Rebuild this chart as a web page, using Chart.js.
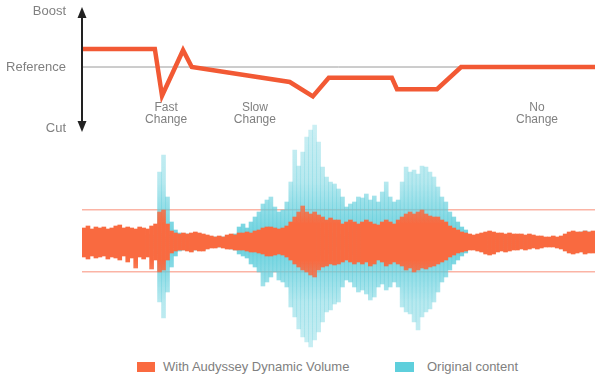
<!DOCTYPE html>
<html>
<head>
<meta charset="utf-8">
<script src="https://cdn.jsdelivr.net/npm/chart.js@4/dist/chart.umd.min.js"></script>
<style>
  body { margin: 0; background: #fff; font-family: "Liberation Sans", Arial, sans-serif; }
  #wrap { position: relative; width: 601px; height: 379px; overflow: hidden; }
  #gainCanvas { position: absolute; left: 0; top: 0; z-index: 2; }
  #waveCanvas { position: absolute; left: 0; top: 120px; z-index: 1; }
  .legend-text { position: absolute; top: 360px; font-size: 13px; line-height: 14px; color: #808080; white-space: nowrap; }
  .swatch { position: absolute; top: 362px; height: 10px; }
</style>
</head>
<body>
<div id="wrap">
  <canvas id="waveCanvas" width="601" height="245"></canvas>
  <canvas id="gainCanvas" width="601" height="140"></canvas>
  <div class="swatch" style="left:137px;width:18px;background:#fa6a40"></div>
  <div class="legend-text" style="left:163px">With Audyssey Dynamic Volume</div>
  <div class="swatch" style="left:395px;width:19px;background:#5ecfdc"></div>
  <div class="legend-text" style="left:427px">Original content</div>
</div>
<script>
// gain curve (time in % of clip, level relative to reference)
const gainTimes = [0, 14.2, 15.6, 19.7, 21.4, 40.5, 45.0, 48.1, 60.4, 61.4, 69.2, 73.9, 100];
const gainLevels = [0.30, 0.30, -0.48, 0.28, 0, -0.25, -0.49, -0.18, -0.18, -0.37, -0.37, 0, 0];
const levelTicks = [0.92, 0, -1.02];
const levelLabels = ['Boost', 'Reference', 'Cut'];
const noteTimes = [16.4, 33.7, 88.7];
const noteLabels = [['Fast', 'Change'], ['Slow', 'Change'], ['No', 'Change']];

// waveform envelopes, one sample every ~0.8% of the clip
const orangeTop = [14,16,13,15,14,15,13,14,16,17,14,15,14,13,15,14,13,16,18,
  30,32,18,11,9,
  8,9,8,9,10,9,8,7,6,5,6,5,7,8,7,9,
  9,10,9,11,12,14,15,15,14,13,14,16,20,
  25,30,36,30,28,30,27,25,22,24,22,
  22,18,20,22,20,18,20,22,20,18,17,20,22,20,18,22,
  25,28,30,28,30,32,28,26,25,25,22,20,16,14,12,10,9,
  8,7,8,9,10,11,10,9,9,8,9,8,8,8,7,8,7,6,6,5,5,6,5,6,8,10,11,10,10,11,10,11];
const orangeBottom = [15,17,14,16,15,14,17,15,16,18,14,20,16,26,15,17,15,27,18,
  30,28,18,11,9,
  8,8,9,10,8,9,9,7,6,6,5,6,7,7,8,8,
  8,9,10,10,11,12,14,14,13,12,13,15,18,
  22,25,28,30,33,35,28,25,24,22,23,
  22,20,18,20,22,20,22,20,24,22,18,20,24,22,20,22,
  24,28,26,30,28,26,27,25,24,22,20,18,15,13,11,10,9,
  8,8,9,10,12,13,12,10,9,10,9,8,8,7,8,7,6,7,6,5,5,5,6,7,9,11,12,11,10,12,11,11];
const cyanTop = [7,8,7,8,7,8,7,7,8,8,7,8,7,7,8,7,7,8,15,
  70,87,45,20,12,
  9,8,8,8,9,8,7,6,5,5,5,5,6,7,8,15,
  18,14,20,25,30,38,42,45,35,30,32,40,60,
  92,76,90,105,112,117,100,75,65,60,58,
  53,45,35,38,40,45,44,48,42,46,40,50,60,45,40,42,
  60,75,70,72,68,76,75,70,65,55,45,40,30,25,20,15,12,
  7,6,7,8,9,10,9,8,8,7,8,7,7,7,6,7,6,5,5,4,4,5,4,5,7,9,10,9,10,11,10,10];
const cyanBottom = [7,8,8,7,8,7,8,7,7,8,8,7,8,8,7,8,7,8,14,
  60,76,50,25,14,
  9,8,8,9,8,8,8,6,5,5,5,5,6,7,8,12,
  14,16,22,25,30,44,40,35,30,38,40,45,65,
  75,87,95,100,105,98,90,80,70,68,62,
  60,45,38,40,45,50,48,52,58,55,45,42,48,45,40,45,
  65,70,72,80,88,75,70,67,60,50,40,35,28,22,18,14,11,
  7,7,8,9,11,12,11,9,8,9,8,7,7,6,7,6,5,6,5,4,4,4,5,6,8,10,11,10,9,11,10,10];
const limitLevels = [32, -30];

Chart.defaults.font.family = '"Liberation Sans", Arial, sans-serif';
const textGray = '#808080';

const arrowAxis = {
  id: 'arrowAxis',
  afterDatasetsDraw(chart) {
    const c = chart.ctx;
    const x = chart.chartArea.left;
    c.save();
    c.strokeStyle = '#222';
    c.fillStyle = '#222';
    c.lineWidth = 2;
    c.beginPath();
    c.moveTo(x, 14);
    c.lineTo(x, 126);
    c.stroke();
    c.beginPath();
    c.moveTo(x, 7); c.lineTo(x - 4.5, 18); c.lineTo(x + 4.5, 18); c.closePath();
    c.fill();
    c.beginPath();
    c.moveTo(x, 132); c.lineTo(x - 4.5, 121); c.lineTo(x + 4.5, 121); c.closePath();
    c.fill();
    c.restore();
  }
};

const notes = {
  id: 'notes',
  afterDraw(chart) {
    const c = chart.ctx;
    const xs = chart.scales.x;
    c.save();
    c.fillStyle = textGray;
    c.font = '12px "Liberation Sans", Arial, sans-serif';
    c.textAlign = 'center';
    c.textBaseline = 'middle';
    noteTimes.forEach((t, i) => {
      const px = xs.getPixelForValue(t);
      c.fillText(noteLabels[i][0], px, 108);
      c.fillText(noteLabels[i][1], px, 120);
    });
    c.restore();
  }
};

new Chart(document.getElementById('gainCanvas'), {
  type: 'line',
  data: {
    datasets: [
      {
        data: gainTimes.map((t, i) => ({ x: t, y: gainLevels[i] })),
        borderColor: '#f25934',
        borderWidth: 4.5,
        borderJoinStyle: 'miter',
        pointRadius: 0,
        tension: 0
      },
      {
        data: [{ x: 0, y: 0 }, { x: 100, y: 0 }],
        borderColor: '#9a9a9a',
        borderWidth: 1,
        pointRadius: 0
      }
    ]
  },
  options: {
    responsive: false,
    animation: false,
    layout: { padding: { top: 4, bottom: 10, right: 6 } },
    plugins: { legend: { display: false }, tooltip: { enabled: false } },
    scales: {
      x: { type: 'linear', min: 0, max: 100, display: false },
      y: {
        min: -1.05,
        max: 1.05,
        afterFit(scale) {
          scale.width = 82;
          scale.paddingTop = 0;
          scale.paddingBottom = 0;
        },
        afterBuildTicks(scale) { scale.ticks = levelTicks.map(v => ({ value: v })); },
        ticks: {
          callback: (v, i) => levelLabels[i],
          color: textGray,
          font: { size: 13 },
          padding: 16
        },
        grid: { display: false, drawTicks: false },
        border: { display: false }
      }
    }
  },
  plugins: [arrowAxis, notes]
});

function waveFill(rgb, stops) {
  let cache = null;
  return function (ctx) {
    const chart = ctx.chart;
    const area = chart.chartArea;
    if (!area) return 'rgb(' + rgb + ')';
    if (cache) return cache;
    const y0 = chart.scales.y.getPixelForValue(0);
    const g = chart.ctx.createLinearGradient(0, y0 - 125, 0, y0 + 125);
    stops.forEach(([d, a]) => {
      g.addColorStop(0.5 - d / 250, 'rgba(' + rgb + ',' + a + ')');
    });
    stops.slice().reverse().forEach(([d, a]) => {
      if (d > 0) g.addColorStop(0.5 + d / 250, 'rgba(' + rgb + ',' + a + ')');
    });
    cache = g;
    return g;
  };
}

const sampleLabels = orangeTop.map((_, i) => i);

new Chart(document.getElementById('waveCanvas'), {
  type: 'bar',
  data: {
    labels: sampleLabels,
    datasets: [
      {
        label: 'With Audyssey Dynamic Volume',
        data: orangeTop.map((t, i) => [-orangeBottom[i], t]),
        backgroundColor: waveFill('249,106,64', [[125, 0.7], [30, 0.85], [18, 1], [0, 1]]),
        borderWidth: 0,
        grouped: false,
        barPercentage: 1,
        categoryPercentage: 1
      },
      {
        label: 'Original content',
        data: cyanTop.map((t, i) => [-cyanBottom[i], t]),
        backgroundColor: waveFill('94,205,219', [[125, 0.3], [60, 0.45], [25, 0.75], [0, 0.95]]),
        borderWidth: 0,
        grouped: false,
        barPercentage: 1,
        categoryPercentage: 1
      }
    ]
  },
  options: {
    responsive: false,
    animation: false,
    layout: { padding: { left: 82, right: 6 } },
    plugins: { legend: { display: false }, tooltip: { enabled: false } },
    scales: {
      x: { display: false },
      y: {
        min: -123,
        max: 122,
        afterFit(scale) { scale.width = 0; },
        afterBuildTicks(scale) { scale.ticks = limitLevels.map(v => ({ value: v })); },
        ticks: { display: false },
        grid: { color: '#fbb4a5', lineWidth: 1.5, drawTicks: false },
        border: { display: false }
      }
    }
  }
});
</script>
</body>
</html>
